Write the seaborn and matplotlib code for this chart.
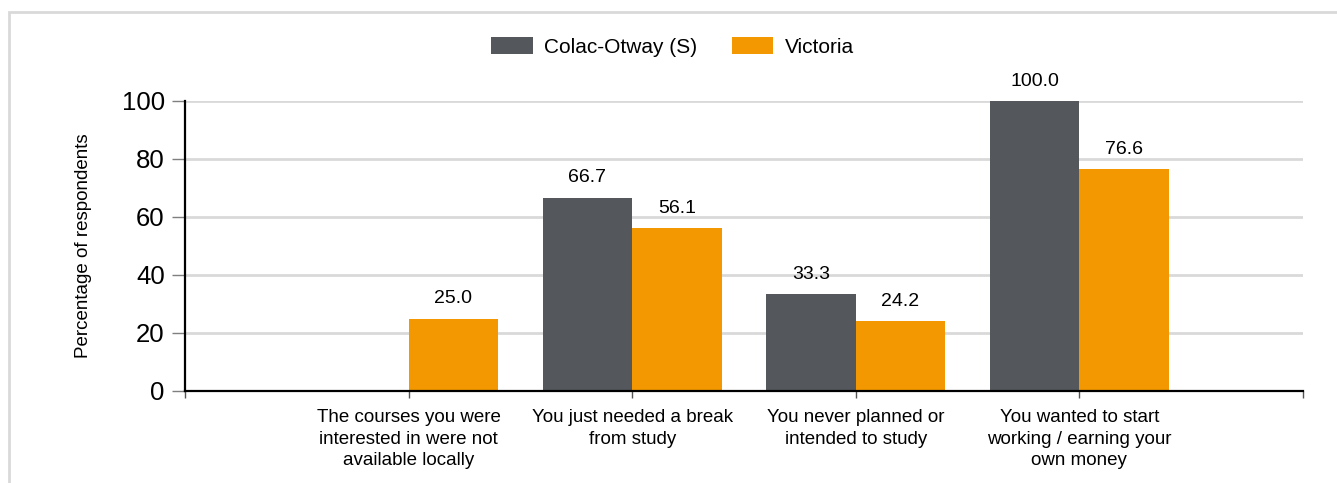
import numpy as np
import pandas as pd
import seaborn as sns
import matplotlib.pyplot as plt
from matplotlib.patches import Rectangle
from matplotlib.ticker import FixedLocator

# data
categories = [
    "The courses you were\ninterested in were not\navailable locally",
    "You just needed a break\nfrom study",
    "You never planned or\nintended to study",
    "You wanted to start\nworking / earning your\nown money",
]
colac_otway = [0.0, 66.7, 33.3, 100.0]
victoria = [25.0, 56.1, 24.2, 76.6]
series_names = ["Colac-Otway (S)", "Victoria"]
y_ticks = [0, 20, 40, 60, 80, 100]

palette = {"Colac-Otway (S)": "#54575B", "Victoria": "#F39800"}

df = pd.DataFrame({
    "category": categories * 2,
    "value": colac_otway + victoria,
    "area": [series_names[0]] * len(categories) + [series_names[1]] * len(categories),
})

sns.set_style("white")
plt.rcParams["font.family"] = ["Liberation Sans", "DejaVu Sans"]
plt.rcParams.update({"text.color": "black", "axes.labelcolor": "black",
                     "xtick.labelcolor": "black", "ytick.labelcolor": "black"})

fig = plt.figure(figsize=(13.37, 4.83), dpi=100)
ax = fig.add_axes([185 / 1337, 92 / 483, 1118 / 1337, 290 / 483])

sns.barplot(data=df, x="category", y="value", hue="area", order=categories,
            hue_order=series_names, palette=palette, width=0.8, saturation=1,
            ax=ax, linewidth=0)

# value labels above bars (zero values left blank)
for container in ax.containers:
    labels = [f"{b.get_height():.1f}" if b.get_height() > 0 else "" for b in container]
    ax.bar_label(container, labels=labels, padding=8, fontsize=14,
                 color="black", clip_on=False)

ax.set_xlim(-1, 4)
ax.set_ylim(0, 100)
ax.set_yticks(y_ticks)
ax.tick_params(axis="y", labelsize=18.5, length=9.5, width=1, color="#7F7F7F",
               pad=5, left=True)
ax.xaxis.set_minor_locator(FixedLocator([-1, 4]))
ax.tick_params(axis="x", which="both", labelsize=13.5, length=5, width=1,
               color="#555555", pad=8, bottom=True)
for lbl in ax.get_xticklabels():
    lbl.set_linespacing(1.35)
ax.set_xlabel("")
ax.set_ylabel("Percentage of respondents", fontsize=13.5)
ax.yaxis.set_label_coords(-0.083, 0.5)

ax.grid(axis="y", color="#D9D9D9", linewidth=2)
ax.set_axisbelow(True)
for side in ["top", "right"]:
    ax.spines[side].set_visible(False)
for side in ["left", "bottom"]:
    ax.spines[side].set_color("black")
    ax.spines[side].set_linewidth(1.6)

handles, labels = ax.get_legend_handles_labels()
ax.legend(handles, labels, loc="center", bbox_to_anchor=(0.503, 1 - 47 / 483),
          bbox_transform=fig.transFigure, ncol=2, frameon=False, fontsize=15,
          handlelength=2.0, handleheight=0.9, handletextpad=0.55, columnspacing=1.65)

# light grey frame round the chart
fig.patches.append(Rectangle((9 / 1337, -0.1), 1.2, 1.1 - 12 / 483,
                             transform=fig.transFigure, fill=False,
                             edgecolor="#D9D9D9", linewidth=2))

fig.savefig("out.png", dpi=100)
